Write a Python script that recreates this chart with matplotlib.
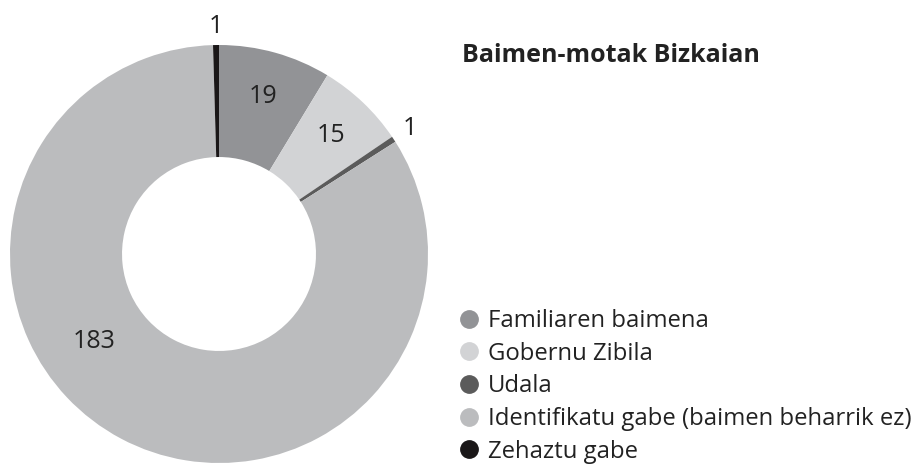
import matplotlib.pyplot as plt
import numpy as np
from matplotlib.lines import Line2D

plt.rcParams['font.family'] = ['Open Sans', 'DejaVu Sans']

# Data
categories = ["Familiaren baimena", "Gobernu Zibila", "Udala",
              "Identifikatu gabe (baimen beharrik ez)", "Zehaztu gabe"]
values = [19, 15, 1, 183, 1]
colors = ["#929396", "#d2d3d5", "#5b5b5b", "#bbbcbe", "#1a1718"]
title = "Baimen-motak Bizkaian"

# where inside each slice the number sits (share of slice angle, radius)
label_frac = [0.5, 0.5, 0.5, 0.59, 0.5]
label_rad = [0.78, 0.78, 1.09, 0.73, 1.09]

W, H = 916, 467
fig = plt.figure(figsize=(W / 100, H / 100), dpi=100)

cx, cy, R = 219, 254, 209
ax = fig.add_axes([(cx - R) / W, (H - cy - R) / H, 2 * R / W, 2 * R / H])
wedges, _ = ax.pie(values, colors=colors, startangle=90, counterclock=False,
                   radius=1, wedgeprops=dict(width=0.536, linewidth=0))
ax.set_xlim(-1, 1)
ax.set_ylim(-1, 1)
ax.set_aspect('equal')
ax.axis('off')

total = sum(values)
start = 0
for v, f, r in zip(values, label_frac, label_rad):
    ang = np.deg2rad((start + v * f) / total * 360)
    ax.text(r * np.sin(ang), r * np.cos(ang), str(v), ha='center', va='center',
            fontsize=18, color='#222222')
    start += v

fig.text(462 / W, 1 - 56 / H, title, fontsize=18, fontweight='bold',
         color='#222222', ha='left', va='center')

handles = [Line2D([0], [0], marker='o', linestyle='', markersize=12.5,
                  markerfacecolor=c, markeredgecolor=c) for c in colors]
fig.legend(handles, categories, loc='lower left', bbox_to_anchor=(447 / W, -0.013),
           frameon=False, fontsize=17.2, handletextpad=0.28, labelspacing=0.36,
           handlelength=1.05, borderaxespad=0.0, labelcolor='#222222')

plt.savefig("out.png", dpi=100)
